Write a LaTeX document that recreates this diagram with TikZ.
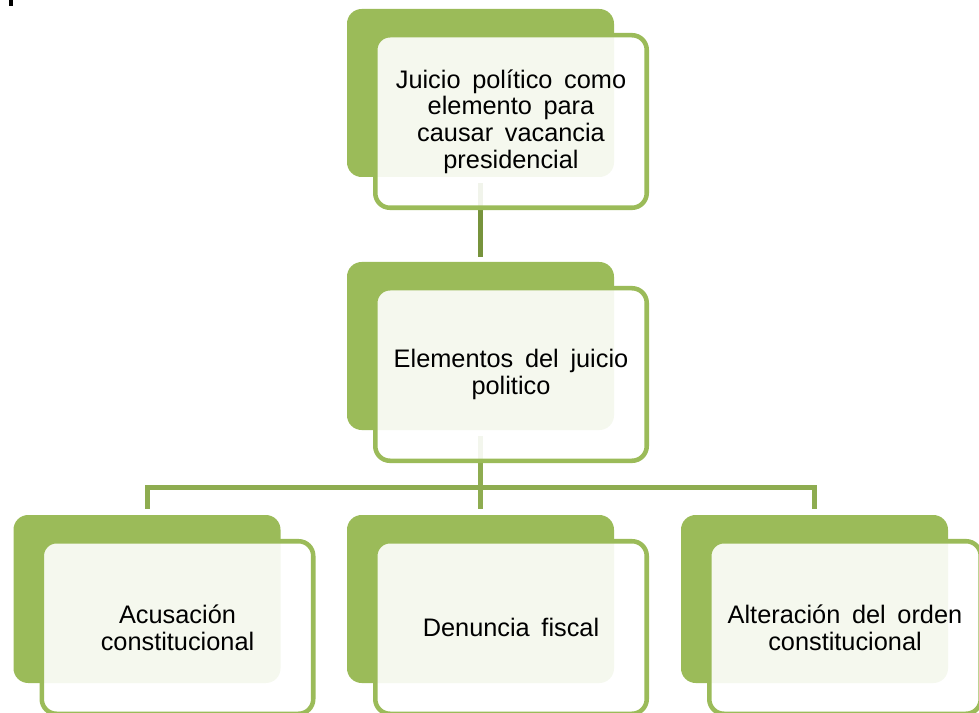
\documentclass[tikz,border=0pt]{standalone}
\usepackage{fontspec}
\setmainfont{Liberation Sans}
\definecolor{leafgreen}{HTML}{9BBB59}
\definecolor{stemgreen}{HTML}{77933C}
\definecolor{forkgreen}{HTML}{8EAC50}
\newcommand{\boxfont}{\fontsize{19}{20}\selectfont\spaceskip 0.46em\relax}
\begin{document}
\begin{tikzpicture}[x=0.75pt,y=-0.75pt,
					backbox/.style={shape=rectangle, rounded corners=11pt, fill=leafgreen, minimum width=200.25pt, minimum height=126pt, inner sep=0pt},
					frontbox/.style={shape=rectangle, rounded corners=11pt, draw=leafgreen, line width=3.4pt, fill=white, fill opacity=0.9, text opacity=1, minimum width=203.6pt, minimum height=129.4pt, inner sep=0pt, align=center, font=\boxfont},
					stem/.style={draw=stemgreen, line width=3.75pt},
					fork/.style={draw=forkgreen, line width=3.75pt}
					]
	\useasboundingbox (0,0) rectangle (979,713);
	\clip (0,0) rectangle (979,713);
	\fill[black] (9,0) rectangle (13,6); %stray mark

	%back boxes-----------------------------------------------
	\node[backbox] (topback) at (480.5,93) {}; %top
	\node[backbox] (midback) at (480.5,346) {}; %middle
	\node[backbox] (leftback) at (147,599) {}; %left
	\node[backbox] (centerback) at (480.5,599) {}; %center
	\node[backbox] (rightback) at (814.5,599) {}; %right

	%connectors-----------------------------------------------
	\draw[stem, shorten <=4.5pt, shorten >=3.75pt] (topback) -- (midback); %top to middle
	\coordinate (forkpt) at (480.5,487.5);
	\draw[fork] ([yshift=-4.5pt]midback.south) -- (forkpt); %middle down
	\draw[fork] ([yshift=4.5pt]leftback.north) |- (forkpt) -| ([yshift=4.5pt]rightback.north); %bar
	\draw[fork] (forkpt) -- ([yshift=4.5pt]centerback.north); %center down

	%front boxes----------------------------------------------
	\node[frontbox] (topfront) at (511,121.5) {Juicio político como\\elemento para\\causar vacancia\\presidencial};
	\node[frontbox] (midfront) at (511,374.5) {Elementos del juicio\\politico};
	\node[frontbox] (leftfront) at (177.5,627.5) {Acusación\\constitucional};
	\node[frontbox] (centerfront) at (511,627.5) {Denuncia fiscal};
	\node[frontbox] (rightfront) at (845,627.5) {Alteración del orden\\constitucional};
\end{tikzpicture}
\end{document}
